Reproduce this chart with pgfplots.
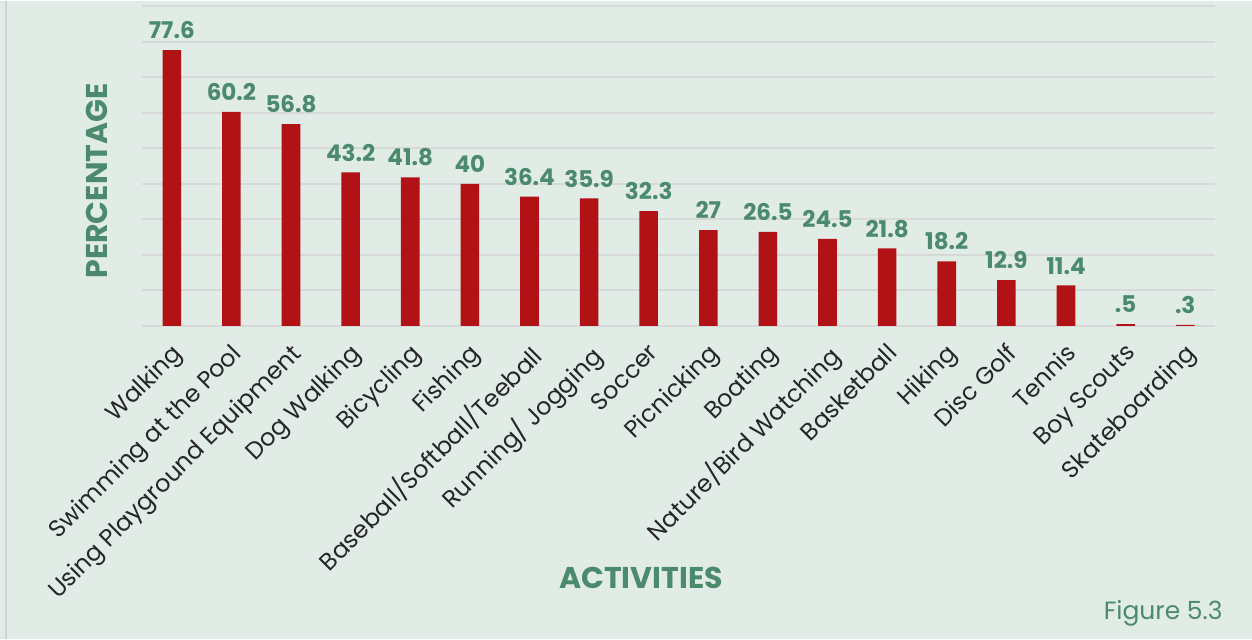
\documentclass[border=0pt]{standalone}
\usepackage{fontspec}
\setmainfont{Poppins}
\usepackage{pgfplots}
\pgfplotsset{compat=1.18}
\definecolor{bgc}{HTML}{E1ECE7}
\definecolor{barred}{HTML}{B01216}
\definecolor{txtgreen}{HTML}{4B8A6C}
\definecolor{gridc}{HTML}{D7D9D8}
\definecolor{edgec}{HTML}{CFD3D1}
\begin{document}
\begin{tikzpicture}
% 1 px of the reference = 0.5pt
\fill[bgc] (-71pt,-156.5pt) rectangle (555pt,162.5pt);
\draw[edgec, line width=1pt] (-67.75pt,-156.5pt) -- (-67.75pt,162.5pt);
\useasboundingbox (-71pt,-156.5pt) rectangle (555pt,162.5pt);
\begin{axis}[
    at={(0,0)}, anchor=south west,
    scale only axis,
    width=536.5pt, height=160pt,
    ybar, bar width=9.3pt,
    xmin=-0.5, xmax=17.5,
    ymin=0, ymax=90,
    ytick={0,10,...,90},
    yticklabels={},
    xtick=data,
    xticklabels={Walking,Swimming at the Pool,Using Playground Equipment,Dog Walking,Bicycling,Fishing,Baseball/Softball/Teeball,Running/ Jogging,Soccer,Picnicking,Boating,Nature/Bird Watching,Basketball,Hiking,Disc Golf,Tennis,Boy Scouts,Skateboarding},
    xticklabel style={rotate=45, anchor=north east, font=\fontsize{12}{14}\selectfont, text=black!85, xshift=-5pt, yshift=-4pt, inner sep=1pt},
    major tick length=0pt,
    axis line style={draw=none},
    ymajorgrids,
    major grid style={draw=gridc, line width=1pt},
    point meta=explicit symbolic,
    nodes near coords,
    nodes near coords style={font=\fontsize{11.5}{13}\selectfont\bfseries, text=txtgreen, anchor=south, yshift=2pt},
    ylabel={PERCENTAGE},
    ylabel style={at={(axis description cs:-0.0419,0.453)}, anchor=center, font=\fontsize{15}{17}\selectfont\bfseries, text=txtgreen},
    xlabel={ACTIVITIES},
    xlabel style={at={(axis description cs:0.465,-0.7875)}, anchor=center, font=\fontsize{15}{17}\selectfont\bfseries, text=txtgreen},
]
\addplot[fill=barred, draw=none] coordinates {
(0,77.6) [77.6]
(1,60.2) [60.2]
(2,56.8) [56.8]
(3,43.2) [43.2]
(4,41.8) [41.8]
(5,40) [40]
(6,36.4) [36.4]
(7,35.9) [35.9]
(8,32.3) [32.3]
(9,27) [27]
(10,26.5) [26.5]
(11,24.5) [24.5]
(12,21.8) [21.8]
(13,18.2) [18.2]
(14,12.9) [12.9]
(15,11.4) [11.4]
(16,0.5) [.5]
(17,0.3) [.3]
};
\end{axis}
\node[anchor=east, text=txtgreen, font=\fontsize{12.5}{14}\selectfont, inner sep=0pt] at (540.5pt,-143.5pt) {Figure 5.3};
\end{tikzpicture}
\end{document}
